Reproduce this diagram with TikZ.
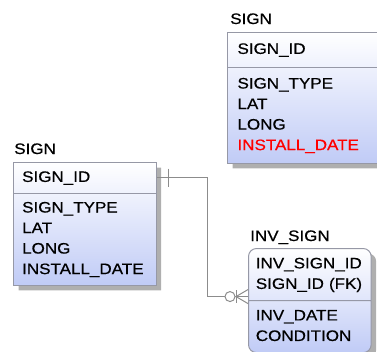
\documentclass[tikz,border=0pt]{standalone}
\usepackage{fontspec}
\setmainfont{Liberation Sans}[FakeStretch=1.12, FakeBold=0.6]
\usetikzlibrary{calc, positioning, shapes.multipart, shadows}

\definecolor{boxline}{RGB}{150,152,166}
\definecolor{boxfill}{RGB}{192,203,246}
\definecolor{shadowgray}{RGB}{175,175,175}
\definecolor{linkgray}{RGB}{140,140,140}

\begin{document}
\begin{tikzpicture}[
    x=0.75pt, y=-0.75pt,
    every node/.style={font=\fontsize{11.4}{15.4}\selectfont},
    entity/.style={rectangle split, rectangle split parts=2, draw=boxline, line width=0.75pt,
        top color=white, bottom color=boxfill, align=left, anchor=north west,
        drop shadow={shadow xshift=3.75pt, shadow yshift=-3.75pt, fill=shadowgray, opacity=1}},
    title_style/.style={anchor=base west, inner sep=0pt},
    link/.style={draw=linkgray, line width=0.75pt}
]
\clip (0,0) rectangle (377,351);

% entities
\node[entity, text width=94pt, inner xsep=6.5pt, inner ysep=3.4pt] (sign1) at (13,162)
    {\strut SIGN\_ID
     \nodepart{two}\strut SIGN\_TYPE \\ LAT \\ LONG \\ INSTALL\_DATE\strut};
\node[entity, text width=100pt, inner xsep=7.5pt, inner ysep=4.9pt] (sign2) at (227,32)
    {\strut SIGN\_ID
     \nodepart{two}\strut SIGN\_TYPE \\ LAT \\ LONG \\ \textcolor{red}{INSTALL\_DATE}\strut};
\node[entity, text width=81pt, inner xsep=5.5pt, inner ysep=3.75pt, rounded corners=6pt] (inv) at (248,248)
    {\strut INV\_SIGN\_ID \\ SIGN\_ID (FK)\strut
     \nodepart{two}\strut INV\_DATE \\ CONDITION\strut};

% titles
\node[title_style] (sign1_title) at ([shift={(1,-8)}]sign1.north west) {SIGN};
\node[title_style] (sign2_title) at ([shift={(3,-8)}]sign2.north west) {SIGN};
\node[title_style] (inv_title) at ([shift={(2,-7)}]inv.north west) {INV\_SIGN};

% relationship
\coordinate (sign1_key) at ($(sign1.north east)!0.5!(sign1.text split east)$);
\coordinate (inv_key) at ($(inv.text split west)+(0,-4)$);
\coordinate (bend) at (207,0);
\draw[link] (sign1_key) -| (bend |- inv_key) -- (inv_key);
\draw[link] ($(sign1_key)+(12,-9)$) -- ++(0,18);
\draw[link, fill=white] ($(inv_key)+(-18,0)$) circle[radius=3.75pt];
\draw[link] ($(inv_key)+(-12,-6.5)$) -- ++(0,13);
\draw[link] ($(inv_key)+(0,-7)$) -- ($(inv_key)+(-12,0)$) -- ($(inv_key)+(0,7)$);

\end{tikzpicture}
\end{document}
